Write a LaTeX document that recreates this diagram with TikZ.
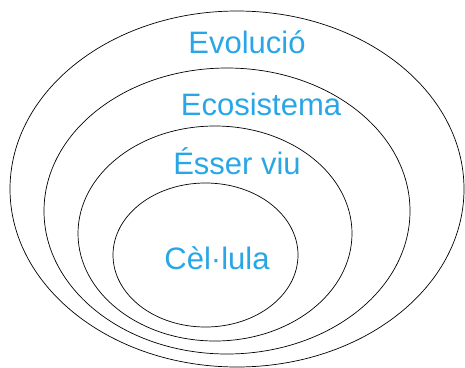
\documentclass[tikz,border=0pt]{standalone}
\usepackage{fontspec}
\setmainfont{Liberation Sans}
\definecolor{lblue}{RGB}{41,166,230}
\begin{document}
\begin{tikzpicture}[x=1pt,y=-1pt,
  ring/.style={draw=black,line width=0.7pt},
  lbl/.style={text=lblue,font=\fontsize{31}{31}\selectfont,anchor=base,inner sep=0pt}]
\useasboundingbox (0,0) rectangle (465,367);
\draw[ring] (237,189) ellipse [x radius=227,y radius=178];
\draw[ring] (227,211) ellipse [x radius=183,y radius=143];
\draw[ring] (215,233.5) ellipse [x radius=137,y radius=107.5];
\draw[ring] (205.5,255) ellipse [x radius=92.5,y radius=72];
\node[lbl] (evol) at (247,53) {Evolució};
\node[lbl] (eco) at (261,115) {Ecosistema};
\node[lbl] (esser) at (237,174) {Ésser viu};
\node[lbl] (cel) at (217,269) {Cèl·lula};
\end{tikzpicture}
\end{document}
